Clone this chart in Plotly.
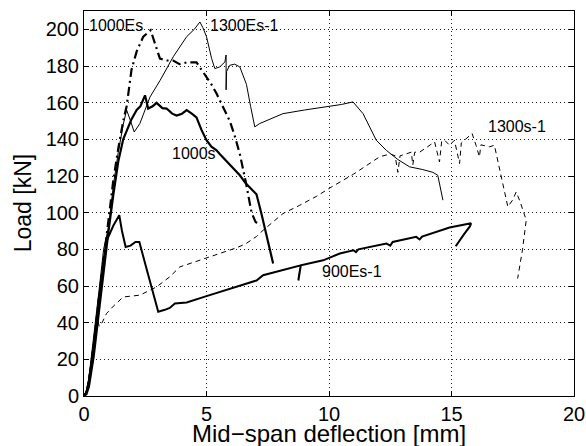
import plotly.graph_objects as go

# ---- data (deflection [mm], load [kN]) ----
es1000_x = [0, 0.1, 0.2, 0.4, 0.6, 0.8, 1.0, 1.2, 1.4, 1.6, 1.74, 1.94, 2.15, 2.28, 2.42, 2.72, 2.9, 3.1, 3.4, 3.64, 3.9, 4.2, 4.59, 4.8, 5.0, 5.2, 5.41, 5.7, 5.95, 6.15, 6.36, 6.6, 6.84, 7.0, 7.2]
es1000_y = [0, 2, 8, 28, 52, 75, 98, 118, 135, 150, 158, 178, 188, 192, 196, 199.5, 192, 184, 183, 183, 181, 182, 182, 178, 174, 170, 165, 157, 150, 142, 132, 117, 100, 95, 93]

s1000_x = [0, 0.1, 0.2, 0.4, 0.6, 0.8, 1.0, 1.2, 1.4, 1.6, 1.74, 1.94, 2.15, 2.3, 2.49, 2.62, 2.8, 2.96, 3.2, 3.37, 3.6, 3.78, 4.0, 4.19, 4.4, 4.59, 4.8, 5.0, 5.2, 5.41, 5.54, 5.9, 6.15, 6.36, 6.6, 7.04, 7.24, 7.5, 7.72]
s1000_y = [0, 1, 5, 22, 45, 68, 90, 110, 128, 140, 145, 151, 156, 158, 164, 156.8, 158, 159.9, 157, 156.8, 154, 153, 154, 155.9, 154, 152, 145, 139.5, 136, 134, 132, 127, 123, 120.4, 116, 110, 99.5, 85, 72.3]

es1300_x = [0, 0.1, 0.2, 0.4, 0.6, 0.8, 0.9, 1.0, 1.2, 1.4, 1.6, 1.74, 1.9, 2.05, 2.28, 2.69, 3.1, 3.64, 4.19, 4.5, 4.73, 4.85, 5.0, 5.21, 5.34, 5.54, 5.75, 5.8, 5.8, 5.82, 5.95, 6.15, 6.36, 6.63, 6.8, 6.97, 7.17, 8.12, 9.0, 9.9, 10.5, 10.98, 11.39, 11.93, 12.34, 12.81, 13.29, 13.83, 14.24, 14.44, 14.55, 14.65]
es1300_y = [0, 3, 10, 32, 56, 80, 86, 92, 115, 133, 148, 156, 150, 144, 148.6, 163, 172, 185, 196, 200, 204, 201, 196, 184, 178.6, 179.5, 182.2, 186, 167, 177, 180.4, 181, 179.5, 170, 158, 146.8, 148.6, 154, 156, 157.7, 159, 160.4, 154, 139.5, 134, 129, 125, 123.5, 122, 120.4, 113, 106.8]

s1300_x = [0, 0.1, 0.2, 0.4, 0.55, 0.62, 0.72, 0.92, 1.2, 1.6, 2.28, 2.96, 3.5, 3.91, 4.5, 5.0, 5.6, 6.22, 6.6, 7.04, 7.31, 8.12, 8.8, 9.5, 10.1, 11.0, 12.07, 12.5, 12.7, 12.81, 12.9, 13.36, 13.42, 13.5, 13.7, 14.31, 14.51, 14.6, 14.72, 14.92, 15.12, 15.33, 15.4, 15.53, 15.84, 16.0, 16.14, 16.2, 16.28, 16.55, 16.75, 17.0, 17.3, 17.5, 17.64, 17.8, 18.05, 17.9, 17.7]
s1300_y = [0, 3, 10, 30, 42, 38, 39.5, 45, 49, 54, 55, 59.5, 65, 70.4, 73, 75.5, 78, 80.8, 83, 87, 90.4, 99.5, 104, 109, 114, 121, 130.5, 132, 131, 122, 131, 133, 126, 133, 133, 138.6, 127.7, 139, 139.5, 136.8, 139.5, 126.8, 138, 139.5, 143.2, 136.8, 130.4, 137, 136.8, 135.9, 136.8, 122, 103.2, 107, 111.3, 106, 95.9, 80, 64.1]

es900_x = [0, 0.1, 0.2, 0.4, 0.6, 0.8, 0.9, 1.0, 1.2, 1.44, 1.55, 1.7, 1.9, 2.1, 2.26, 2.5, 2.8, 3.03, 3.3, 3.5, 3.71, 4.19, 5.0, 5.95, 7.04, 7.31, 8.4, 8.85, 8.78, 8.75, 8.78, 8.85, 9.76, 10.44, 11.0, 11.1, 11.2, 12.34, 12.5, 12.6, 13.56, 13.7, 13.8, 14.92, 15.8, 15.75, 15.5, 15.17]
es900_y = [0, 2, 8, 28, 52, 74, 84, 87, 93, 98.6, 90, 81.3, 82, 84, 84, 72, 58, 46, 47, 48, 50.5, 51, 54.5, 58.6, 63, 65.9, 69.5, 71.3, 66, 63, 66, 71.3, 74, 77.7, 79.5, 78.5, 80, 83.2, 82, 84, 86.8, 85.4, 87, 91.9, 94.2, 92.5, 88, 81.7]

labels = ["1000Es", "1300Es-1", "1000s", "900Es-1", "1300s-1"]
label_x = [0.12, 5.07, 3.51, 9.65, 16.39]
label_y = [202.2, 202.0, 132.3, 67.7, 146.8]

x_ticks = [0, 5, 10, 15, 20]
y_ticks = list(range(0, 201, 20))

FONT = "Liberation Sans, Arial, Helvetica, sans-serif"

fig = go.Figure()
fig.add_trace(go.Scatter(x=s1300_x, y=s1300_y, mode="lines",
                         line=dict(color="black", width=1, dash="5px,4px")))
fig.add_trace(go.Scatter(x=es1300_x, y=es1300_y, mode="lines",
                         line=dict(color="black", width=1)))
fig.add_trace(go.Scatter(x=es1000_x, y=es1000_y, mode="lines",
                         line=dict(color="black", width=2.2, dash="9px,4px,2px,4px")))
fig.add_trace(go.Scatter(x=s1000_x, y=s1000_y, mode="lines",
                         line=dict(color="black", width=2.2)))
fig.add_trace(go.Scatter(x=es900_x, y=es900_y, mode="lines",
                         line=dict(color="black", width=2)))

for t, lx, ly in zip(labels, label_x, label_y):
    fig.add_annotation(x=lx, y=ly, text=t, showarrow=False, xanchor="left",
                       yanchor="middle", font=dict(family=FONT, size=16, color="black"))

# axis titles placed as paper annotations
fig.add_annotation(x=0.5, xref="paper", y=-0.097, yref="paper",
                   text="Mid\u2212span deflection [mm]", showarrow=False,
                   xanchor="center", yanchor="middle",
                   font=dict(family=FONT, size=24, color="black"))
fig.add_annotation(x=-0.125, xref="paper", y=0.5, yref="paper",
                   text="Load [kN]", showarrow=False, textangle=-90,
                   xanchor="center", yanchor="middle",
                   font=dict(family=FONT, size=23, color="black"))

axis_common = dict(showline=True, linecolor="black", linewidth=1, mirror="ticks",
                   ticks="inside", ticklen=5, tickcolor="black", automargin=False,
                   showgrid=True, gridcolor="#222", griddash="1px,3px", gridwidth=1,
                   zeroline=False, tickfont=dict(family=FONT, size=20, color="black"))

fig.update_xaxes(range=[0, 20], tickvals=x_ticks, **axis_common)
fig.update_yaxes(range=[0, 210], tickvals=y_ticks, **axis_common)

fig.update_layout(width=586, height=446, showlegend=False,
                  plot_bgcolor="white", paper_bgcolor="white",
                  margin=dict(l=84, r=12, t=11, b=50))

fig.write_html("out.html", config={"displayModeBar": False},
               post_script="document.body.style.margin='0px';document.body.style.overflow='hidden';")
